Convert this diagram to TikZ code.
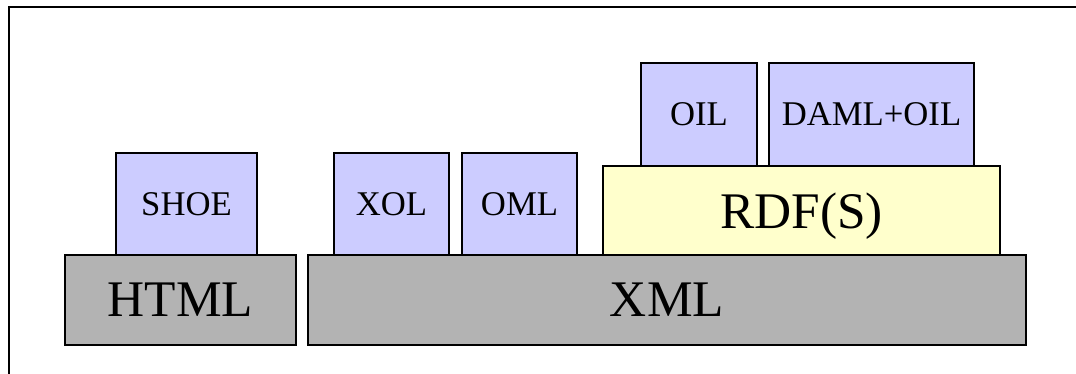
\documentclass[tikz,border=0pt]{standalone}
\usepackage{fontspec}
\setmainfont{Liberation Serif}
\definecolor{ontblue}{HTML}{CCCCFF}
\definecolor{rdfyellow}{HTML}{FFFFCC}
\definecolor{basegray}{HTML}{B3B3B3}
\tikzset{
  lbox/.style={draw=black, line width=1pt, inner sep=0pt, outer sep=0pt, anchor=north west},
  sz/.style 2 args={minimum width=#1*0.75pt, minimum height=#2*0.75pt},
  smalltext/.style={font=\fontsize{26}{30}\selectfont},
  bigtext/.style={font=\fontsize{38.5}{44}\selectfont},
  ontbox/.style={lbox, fill=ontblue, smalltext},
  rdfbox/.style={lbox, fill=rdfyellow, bigtext},
  basebox/.style={lbox, fill=basegray, bigtext},
  frameline/.style={draw=black, line width=1.5pt}
}
\begin{document}
\begin{tikzpicture}[x=0.75pt, y=-0.75pt]
\useasboundingbox (0,0) rectangle (1076,374);
\clip (0,0) rectangle (1076,374);
\fill[white] (0,0) rectangle (1076,374);
\coordinate (fa) at (9,400);
\coordinate (fb) at (9,7.5);
\coordinate (fc) at (1100,7.5);
\draw[frameline] (fa) -- (fb) -- (fc);
% base layer
\node[basebox, sz={231}{90}] (html) at (65,255) {HTML};
\node[basebox, sz={718}{90}] (xml) at (308,255) {XML};
% second layer
\node[ontbox, sz={141}{102}] (shoe) at (116,153) {SHOE};
\node[ontbox, sz={115}{102}] (xol) at (334,153) {XOL};
\node[ontbox, sz={115}{102}] (oml) at (462,153) {OML};
\node[rdfbox, sz={397}{89}, text depth=0pt] (rdf) at (603,166) {RDF(S)};
% top layer
\node[ontbox, sz={116}{103}] (oil) at (641,63) {OIL};
\node[ontbox, sz={205}{103}] (daml) at (769,63) {DAML+OIL};
\end{tikzpicture}
\end{document}
